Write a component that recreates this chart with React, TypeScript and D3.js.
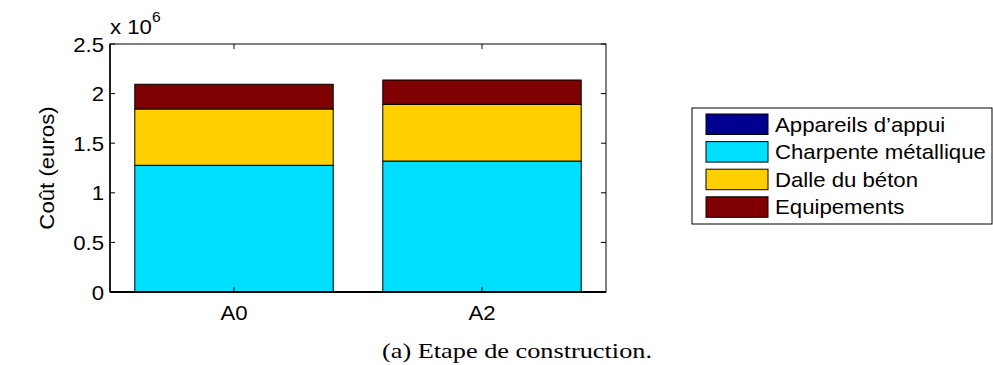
import React from "react";
import * as d3 from "d3";

const categories = ["A0", "A2"];
const seriesNames = ["Appareils d’appui", "Charpente métallique", "Dalle du béton", "Equipements"];
const appareils = [3000, 3000];
const charpente = [1274000, 1317000];
const dalle = [568000, 572000];
const equipements = [249000, 245000];
const colors = ["#00008F", "#00DFFF", "#FFCF00", "#7F0000"];
const yTicks = [0, 0.5, 1, 1.5, 2, 2.5];

const W = 993, H = 365;
const M = { left: 110, top: 44, right: 606, bottom: 292 };
const FONT = "'Liberation Sans', Arial, sans-serif";
const SX = 1.11;

function T({ x, y, anchor = "start", size = 20, children }: any) {
  return (
    <text
      transform={`translate(${x},${y}) scale(${SX},1)`}
      textAnchor={anchor}
      fontFamily={FONT}
      fontSize={size}
      fill="#000"
    >
      {children}
    </text>
  );
}

export default function App() {
  const series = [appareils, charpente, dalle, equipements];
  const table = categories.map((c, i) => {
    const o: any = { cat: c };
    seriesNames.forEach((s, k) => (o[s] = series[k][i]));
    return o;
  });
  const stacked = d3.stack().keys(seriesNames)(table);
  const x = d3.scaleLinear().domain([0.5, 2.5]).range([M.left, M.right]);
  const y = d3.scaleLinear().domain([0, 2.5e6]).range([M.bottom, M.top]);
  const bw = 0.8;
  const tick = 5;

  return (
    <svg width={W} height={H} style={{ position: "absolute", left: 0, top: 0 }}>
      <rect x={0} y={0} width={W} height={H} fill="#fff" />
      {stacked.map((layer, k) =>
        layer.map((d, i) => (
          <rect
            key={`${k}-${i}`}
            x={x(i + 1 - bw / 2)}
            y={y(d[1])}
            width={x(i + 1 + bw / 2) - x(i + 1 - bw / 2)}
            height={Math.max(0, y(d[0]) - y(d[1]))}
            fill={colors[k]}
            stroke="#000"
            strokeWidth={1}
          />
        ))
      )}
      <rect x={M.left} y={M.top} width={M.right - M.left} height={M.bottom - M.top} fill="none" stroke="#000" strokeWidth={1} />
      <line x1={M.left} x2={M.right} y1={M.bottom} y2={M.bottom} stroke="#000" strokeWidth={2} />
      <line x1={M.left} x2={M.left} y1={M.top} y2={M.bottom} stroke="#000" strokeWidth={1.5} />
      {yTicks.map((t) => (
        <g key={t}>
          <line x1={M.left} x2={M.left + tick} y1={y(t * 1e6)} y2={y(t * 1e6)} stroke="#000" />
          <line x1={M.right} x2={M.right - tick} y1={y(t * 1e6)} y2={y(t * 1e6)} stroke="#000" />
          <T x={M.left - 6} y={y(t * 1e6) + 7.5} anchor="end">{t}</T>
        </g>
      ))}
      {categories.map((c, i) => (
        <g key={c}>
          <line x1={x(i + 1)} x2={x(i + 1)} y1={M.bottom} y2={M.bottom - tick} stroke="#000" />
          <line x1={x(i + 1)} x2={x(i + 1)} y1={M.top} y2={M.top + tick} stroke="#000" />
          <T x={x(i + 1)} y={320} anchor="middle">{c}</T>
        </g>
      ))}
      <T x={M.left} y={34}>
        x 10
        <tspan dy={-12} fontSize={14}>6</tspan>
      </T>
      <text
        transform={`translate(54, ${(M.top + M.bottom) / 2}) rotate(-90) scale(${SX},1)`}
        textAnchor="middle"
        fontFamily={FONT}
        fontSize={20}
        fill="#000"
      >
        Coût (euros)
      </text>
      <rect x={692} y={108} width={300} height={116} fill="#fff" stroke="#000" strokeWidth={1} />
      {seriesNames.map((s, k) => (
        <g key={s}>
          <rect x={706} y={114 + k * 27.6} width={62} height={20.5} fill={colors[k]} stroke="#000" strokeWidth={1} />
          <T x={775} y={131.5 + k * 27.6}>{s}</T>
        </g>
      ))}
      <text x={517} y={358} textAnchor="middle" fontFamily="'Liberation Serif', serif" fontSize={21} fill="#000" textLength={270} lengthAdjust="spacingAndGlyphs">
        (a) Etape de construction.
      </text>
    </svg>
  );
}
